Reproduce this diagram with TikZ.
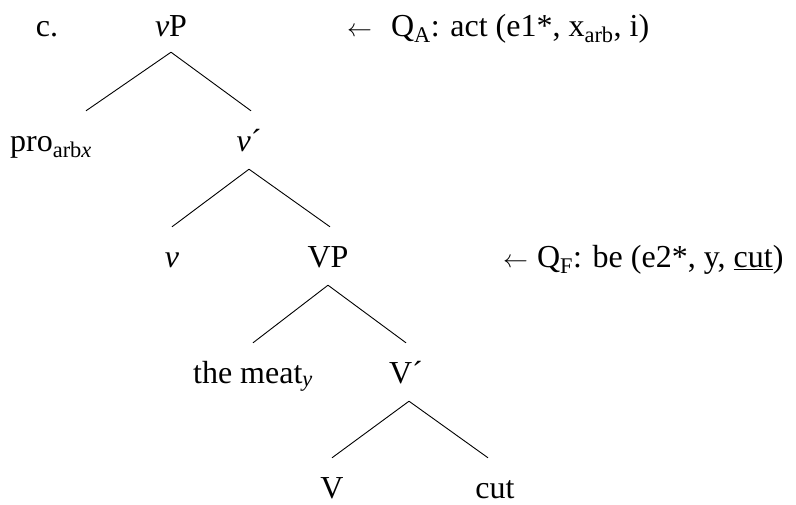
\documentclass[tikz,border=0pt]{standalone}
\usepackage{fontspec}
\setmainfont{Liberation Serif}
\usepackage{tikz}
\usetikzlibrary{positioning,calc}
\newcommand{\lv}{\textit{v}}
\newcommand{\sbs}[1]{\textsubscript{#1}}

\begin{document}
\begin{tikzpicture}[x=1pt,y=-1pt,font=\fontsize{32}{38}\selectfont,
  cat/.style={anchor=base,inner sep=0pt,text height=22pt,text depth=0pt},
  note/.style={anchor=base west,inner sep=0pt},
  branch/.style={line width=0.9pt}]
\useasboundingbox (0,0) rectangle (796,504);
% tree
\node[cat] (ex)   at (47,36)   {c.};
\node[cat] (vP)   at (171,36)  {\lv P};
\node[cat] (pro)  at (51,151)  {pro\sbs{arb\textit{x}}};
\node[cat] (vbar) at (249,151) {\lv´};
\node[cat] (v)    at (172,267) {\lv};
\node[cat] (VP)   at (328,267) {VP};
\node[cat] (obj)  at (253,383) {the meat\sbs{\textit{y}}};
\node[cat] (Vbar) at (406,383) {V´};
\node[cat] (V)    at (332,498) {V};
\node[cat] (cut)  at (495,498) {cut};
\draw[branch] ([yshift=-16pt]vP.south) -- ([xshift=35pt,yshift=18pt]pro.north);
\draw[branch] ([yshift=-16pt]vP.south) -- ([xshift=2pt,yshift=18pt]vbar.north);
\draw[branch] ([yshift=-18pt]vbar.south) -- ([yshift=18pt]v.north);
\draw[branch] ([yshift=-18pt]vbar.south) -- ([xshift=2pt,yshift=18pt]VP.north);
\draw[branch] ([yshift=-18pt]VP.south) -- ([yshift=18pt]obj.north);
\draw[branch] ([yshift=-18pt]VP.south) -- ([yshift=18pt]Vbar.north);
\draw[branch] ([xshift=3pt,yshift=-18pt]Vbar.south) -- ([yshift=18pt]V.north);
\draw[branch] ([xshift=3pt,yshift=-18pt]Vbar.south) -- ([xshift=-7pt,yshift=18pt]cut.north);
% qualia notes
\node[note] (qa) at (347,36)
  {$\leftarrow$\hspace{19pt}Q\sbs{A}: act (e1*, x\sbs{arb}, i)};
\node[note] (qf) at (503,267)
  {$\leftarrow$\hspace{9pt}Q\sbs{F}: be (e2*, y, \underline{cut})};
\end{tikzpicture}
\end{document}
